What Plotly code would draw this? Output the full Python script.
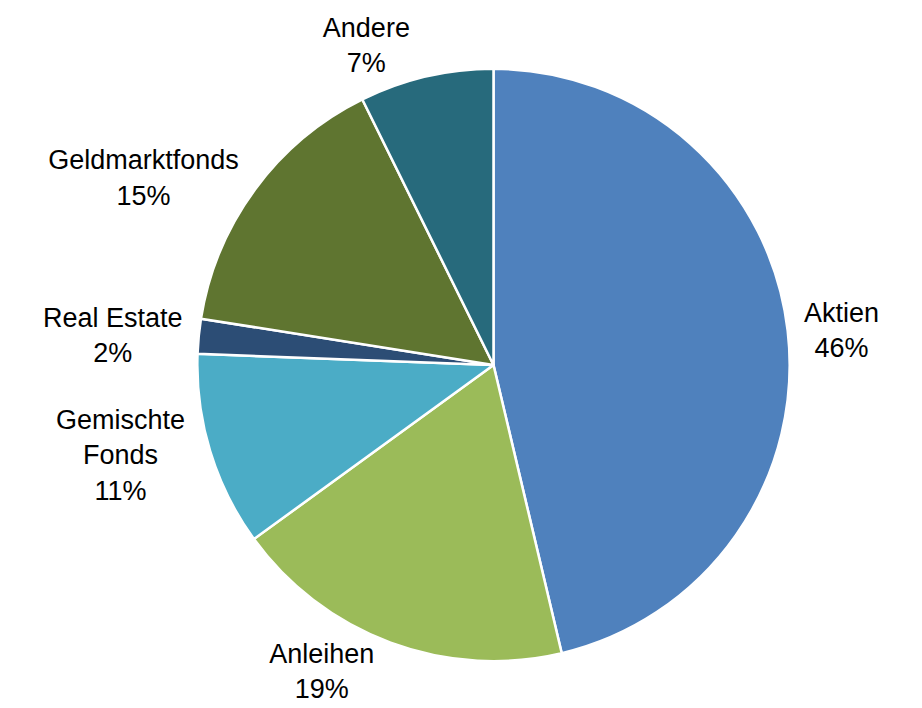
import plotly.graph_objects as go

categories = ["Aktien", "Anleihen", "Gemischte<br>Fonds", "Real Estate", "Geldmarktfonds", "Andere"]
shares = [46.3, 18.7, 10.6, 1.9, 15.2, 7.3]
colors = ["#4F81BD", "#9BBB59", "#4BACC6", "#2C4D75", "#5F7530", "#276A7C"]

W, H = 922, 708
cx, cy, r = 485.5, 356, 297

fig = go.Figure(go.Pie(
    labels=categories,
    values=shares,
    sort=False,
    direction="clockwise",
    rotation=0,
    marker=dict(colors=colors, line=dict(color="white", width=2.5)),
    textposition="outside",
    texttemplate="%{label}<br>%{percent:.0%}",
    textfont=dict(family="Liberation Sans, Arial, sans-serif", size=27, color="black"),
    showlegend=False,
    hoverinfo="label+percent",
    domain=dict(x=[(cx - r) / W, (cx + r) / W], y=[(H - cy - r) / H, (H - cy + r) / H]),
))

fig.update_layout(
    width=W, height=H,
    margin=dict(l=0, r=0, t=0, b=0),
    paper_bgcolor="white",
    plot_bgcolor="white",
)

fig.write_html("out.html")
